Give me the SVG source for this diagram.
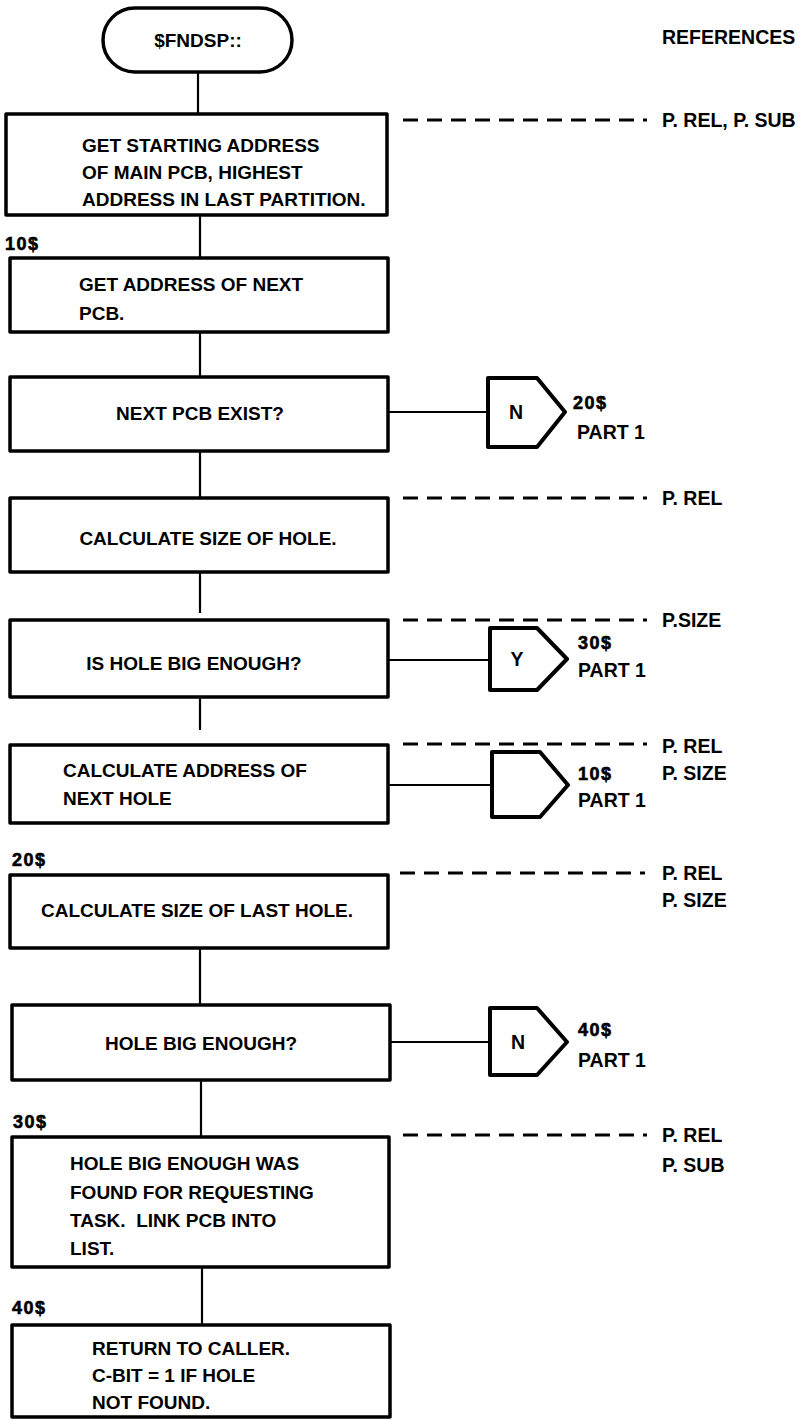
<svg xmlns="http://www.w3.org/2000/svg" width="803" height="1420" viewBox="0 0 803 1420">
<style>
.box{fill:#fff;stroke:#000;stroke-width:3.5;stroke-linejoin:round}
.off{fill:#fff;stroke:#000;stroke-width:4;stroke-linejoin:round}
.ln{stroke:#000;stroke-width:2.2;fill:none}
.dash{stroke:#000;stroke-width:2.8;fill:none;stroke-dasharray:15 9}
.t{font-family:"Liberation Sans",Arial,sans-serif;font-weight:bold;font-size:19px;fill:#000;white-space:pre}
.c{text-anchor:middle}
.s{font-family:"Liberation Sans",Arial,sans-serif;font-weight:bold;font-size:19.5px;fill:#000}
.lbl{font-family:"Liberation Sans",Arial,sans-serif;font-weight:bold;font-size:18px;fill:#000;stroke:#000;stroke-width:0.6;letter-spacing:1.5px}
</style>
<rect width="803" height="1420" fill="#fff"/>
<g id="connectors">
<line class="ln" x1="198" y1="72" x2="198" y2="114"/>
<line class="ln" x1="200" y1="215" x2="200" y2="258"/>
<line class="ln" x1="200" y1="332" x2="200" y2="377"/>
<line class="ln" x1="388" y1="412" x2="488" y2="412"/>
<line class="ln" x1="200" y1="451" x2="200" y2="498"/>
<line class="ln" x1="200" y1="572" x2="200" y2="613"/>
<line class="ln" x1="388" y1="660" x2="490" y2="660"/>
<line class="ln" x1="200" y1="697" x2="200" y2="730"/>
<line class="ln" x1="388" y1="785" x2="492" y2="785"/>
<line class="ln" x1="200" y1="948" x2="200" y2="1005"/>
<line class="ln" x1="390" y1="1042" x2="490" y2="1042"/>
<line class="ln" x1="201" y1="1080" x2="201" y2="1137"/>
<line class="ln" x1="202" y1="1267" x2="202" y2="1325"/>
<line class="dash" x1="403" y1="120" x2="647" y2="120"/>
<line class="dash" x1="403" y1="498" x2="647" y2="498"/>
<line class="dash" x1="403" y1="620" x2="647" y2="620"/>
<line class="dash" x1="403" y1="744" x2="647" y2="744"/>
<line class="dash" x1="400" y1="873" x2="645" y2="873"/>
<line class="dash" x1="403" y1="1135" x2="647" y2="1135"/>
</g>
<g id="references">
<text class="s" x="662" y="44">REFERENCES</text>
<text class="s" x="662" y="127">P. REL, P. SUB</text>
<text class="s" x="662" y="505">P. REL</text>
<text class="s" x="662" y="627">P.SIZE</text>
<text class="s" x="662" y="753">P. REL</text>
<text class="s" x="662" y="780">P. SIZE</text>
<text class="s" x="662" y="880">P. REL</text>
<text class="s" x="662" y="907">P. SIZE</text>
<text class="s" x="662" y="1142">P. REL</text>
<text class="s" x="662" y="1172">P. SUB</text>
</g>
<g id="start">
<rect class="box" x="103" y="8" width="189" height="64" rx="32"/>
<text class="t c" x="198" y="47">$FNDSP::</text>
</g>
<g id="n1">
<rect class="box" x="6" y="114" width="381" height="101"/>
<text class="t" x="82" y="152">GET STARTING ADDRESS</text>
<text class="t" x="82" y="179">OF MAIN PCB, HIGHEST</text>
<text class="t" x="82" y="206">ADDRESS IN LAST PARTITION.</text>
</g>
<g id="n2">
<text class="lbl" x="5" y="250">10$</text>
<rect class="box" x="10" y="258" width="378" height="74"/>
<text class="t" x="79" y="291">GET ADDRESS OF NEXT</text>
<text class="t" x="79" y="320">PCB.</text>
</g>
<g id="n3">
<rect class="box" x="10" y="377" width="378" height="74"/>
<text class="t c" x="200" y="420">NEXT PCB EXIST?</text>
</g>
<g id="off1">
<path class="off" d="M488 378 H537 L565 412 L537 447 H488 Z"/>
<text class="s c" x="516" y="419">N</text>
<text class="lbl" x="573" y="409">20$</text>
<text class="s" x="577" y="439">PART 1</text>
</g>
<g id="n4">
<rect class="box" x="10" y="498" width="378" height="74"/>
<text class="t c" x="208" y="545">CALCULATE SIZE OF HOLE.</text>
</g>
<g id="n5">
<rect class="box" x="10" y="620" width="378" height="77"/>
<text class="t c" x="194" y="670">IS HOLE BIG ENOUGH?</text>
</g>
<g id="off2">
<path class="off" d="M490 628 H537 L567 659 L537 690 H490 Z"/>
<text class="s c" x="517" y="666">Y</text>
<text class="lbl" x="578" y="649">30$</text>
<text class="s" x="578" y="677">PART 1</text>
</g>
<g id="n6">
<rect class="box" x="10" y="745" width="378" height="78"/>
<text class="t" x="63" y="777">CALCULATE ADDRESS OF</text>
<text class="t" x="63" y="805">NEXT HOLE</text>
</g>
<g id="off3">
<path class="off" d="M492 752 H540 L568 785 L540 817 H492 Z"/>
<text class="lbl" x="578" y="780">10$</text>
<text class="s" x="578" y="807">PART 1</text>
</g>
<g id="n7">
<text class="lbl" x="12" y="866">20$</text>
<rect class="box" x="10" y="875" width="378" height="73"/>
<text class="t c" x="197" y="917">CALCULATE SIZE OF LAST HOLE.</text>
</g>
<g id="n8">
<rect class="box" x="12" y="1005" width="378" height="75"/>
<text class="t c" x="201" y="1050">HOLE BIG ENOUGH?</text>
</g>
<g id="off4">
<path class="off" d="M490 1008 H537 L567 1042 L537 1075 H490 Z"/>
<text class="s c" x="518" y="1049">N</text>
<text class="lbl" x="578" y="1036">40$</text>
<text class="s" x="578" y="1067">PART 1</text>
</g>
<g id="n9">
<text class="lbl" x="13" y="1128">30$</text>
<rect class="box" x="12" y="1137" width="377" height="130"/>
<text class="t" x="70" y="1170">HOLE BIG ENOUGH WAS</text>
<text class="t" x="70" y="1199">FOUND FOR REQUESTING</text>
<text class="t" x="70" y="1227">TASK.  LINK PCB INTO</text>
<text class="t" x="70" y="1255">LIST.</text>
</g>
<g id="n10">
<text class="lbl" x="12" y="1314">40$</text>
<rect class="box" x="12" y="1325" width="378" height="92"/>
<text class="t" x="92" y="1355">RETURN TO CALLER.</text>
<text class="t" x="92" y="1382">C-BIT = 1 IF HOLE</text>
<text class="t" x="92" y="1409">NOT FOUND.</text>
</g>
</svg>
